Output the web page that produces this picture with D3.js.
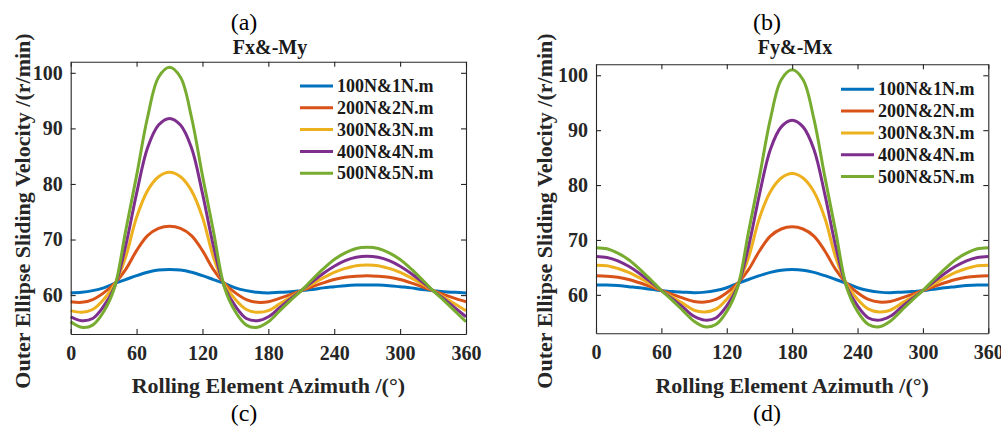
<!DOCTYPE html>
<html>
<head>
<meta charset="utf-8">
<script src="https://cdn.jsdelivr.net/npm/d3@7"></script>
<style>
  html, body { margin: 0; padding: 0; background: #fff; }
  svg { display: block; }
</style>
</head>
<body>
<svg id="chart" width="1001" height="427"></svg>
<script>
// ---------------- data ----------------
const angles = [0,10,20,30,40,50,60,70,80,90,100,110,120,130,140,150,160,170,180,190,200,210,220,230,240,250,260,270,280,290,300,310,320,330,340,350,360];
const xTickValues = [0, 60, 120, 180, 240, 300, 360];
const yTickValues = [60, 70, 80, 90, 100];
const seriesNames = ["100N&1N.m", "200N&2N.m", "300N&3N.m", "400N&4N.m", "500N&5N.m"];
const seriesColors = ["#0072BD", "#D95319", "#EDB120", "#7E2F8E", "#77AC30"];

// Panel (c): Fx&-My
const fxBlue   = [60.4,60.5,60.8,61.3,62.1,62.8,63.5,64.1,64.5,64.6,64.5,64.1,63.5,62.8,62.1,61.3,60.8,60.5,60.4,60.5,60.6,60.8,61.0,61.3,61.5,61.7,61.8,61.8,61.8,61.7,61.5,61.3,61.0,60.8,60.6,60.5,60.4];
const fxOrange = [58.8,58.7,59.2,60.4,62.1,64.6,68.0,70.7,72.0,72.4,72.0,70.7,68.0,64.6,62.1,60.4,59.2,58.7,58.8,59.4,60.1,60.8,61.5,62.2,62.8,63.2,63.4,63.5,63.4,63.2,62.8,62.2,61.5,60.8,60.1,59.4,58.8];
const fxYellow = [57.2,56.9,57.4,59.2,61.9,66.8,74.0,78.8,81.3,82.1,81.3,78.8,74.0,66.8,61.9,59.2,57.4,56.9,57.2,58.4,59.6,60.8,62.0,63.1,64.1,64.8,65.3,65.4,65.3,64.8,64.1,63.1,62.0,60.8,59.6,58.4,57.2];
const fxPurple = [56.1,55.4,55.8,58.0,61.5,68.8,78.3,86.5,90.6,91.8,90.6,86.5,78.3,68.8,61.5,58.0,55.8,55.4,56.1,57.7,59.3,60.8,62.4,63.9,65.2,66.2,66.8,67.0,66.8,66.2,65.2,63.9,62.4,60.8,59.3,57.7,56.1];
const fxGreen  = [55.2,54.2,54.6,57.0,61.4,71.5,81.5,92.0,99.2,101.0,99.2,92.0,81.5,71.5,61.4,57.0,54.6,54.2,55.2,57.1,59.0,60.8,62.8,64.7,66.4,67.6,68.4,68.6,68.4,67.6,66.4,64.7,62.8,60.8,59.0,57.1,55.2];

// Panel (d): Fy&-Mx
const fyBlue   = [61.8,61.8,61.7,61.5,61.3,61.0,60.8,60.6,60.5,60.4,60.5,60.8,61.3,62.1,62.8,63.5,64.1,64.5,64.6,64.5,64.1,63.5,62.8,62.1,61.3,60.8,60.5,60.4,60.5,60.6,60.8,61.0,61.3,61.5,61.7,61.8,61.8];
const fyOrange = [63.5,63.4,63.2,62.8,62.2,61.5,60.8,60.1,59.4,58.8,58.7,59.2,60.4,62.1,64.6,68.0,70.7,72.0,72.4,72.0,70.7,68.0,64.6,62.1,60.4,59.2,58.7,58.8,59.4,60.1,60.8,61.5,62.2,62.8,63.2,63.4,63.5];
const fyYellow = [65.4,65.3,64.8,64.1,63.1,62.0,60.8,59.6,58.4,57.2,56.9,57.4,59.2,61.9,66.8,74.0,78.8,81.3,82.1,81.3,78.8,74.0,66.8,61.9,59.2,57.4,56.9,57.2,58.4,59.6,60.8,62.0,63.1,64.1,64.8,65.3,65.4];
const fyPurple = [67.0,66.8,66.2,65.2,63.9,62.4,60.8,59.3,57.7,56.1,55.4,55.8,58.0,61.5,68.8,78.3,86.5,90.6,91.8,90.6,86.5,78.3,68.8,61.5,58.0,55.8,55.4,56.1,57.7,59.3,60.8,62.4,63.9,65.2,66.2,66.8,67.0];
const fyGreen  = [68.6,68.4,67.6,66.4,64.7,62.8,60.8,59.0,57.1,55.2,54.2,54.6,57.0,61.4,71.5,81.5,92.0,99.2,101.0,99.2,92.0,81.5,71.5,61.4,57.0,54.6,54.2,55.2,57.1,59.0,60.8,62.8,64.7,66.4,67.6,68.4,68.6];

const xDomain = [0, 360];
const yDomain = [53, 102];

// ---------------- drawing ----------------
const svg = d3.select("#chart");
const FONT = "'Liberation Serif', 'Times New Roman', Times, serif";
const AXC = "#262626";

function drawPanel(cfg) {
  const x = d3.scaleLinear().domain(xDomain).range([cfg.left, cfg.right]);
  const y = d3.scaleLinear().domain(yDomain).range([cfg.bottom, cfg.top]);
  const g = svg.append("g");

  const line = d3.line()
    .x((d, i) => x(angles[i]))
    .y(d => y(d))
    .curve(d3.curveCatmullRom.alpha(0.5));

  cfg.series.forEach((s, k) => {
    g.append("path")
      .attr("d", line(s))
      .attr("fill", "none")
      .attr("stroke", seriesColors[k])
      .attr("stroke-width", 3)
      .attr("stroke-linejoin", "round");
  });

  // axes (ticks inward on all four sides)
  const styleAxis = sel => {
    sel.selectAll("path.domain").attr("stroke", AXC).attr("stroke-width", 1.1);
    sel.selectAll(".tick line").attr("stroke", AXC).attr("stroke-width", 1.1);
    sel.selectAll("text")
      .attr("font-family", FONT).attr("font-weight", "bold")
      .attr("font-size", 20).attr("fill", AXC);
  };
  g.append("g").attr("transform", `translate(0,${cfg.bottom})`)
    .call(d3.axisBottom(x).tickValues(xTickValues).tickSizeInner(-5).tickSizeOuter(0).tickPadding(12))
    .call(styleAxis);
  g.append("g").attr("transform", `translate(0,${cfg.top})`)
    .call(d3.axisTop(x).tickValues(xTickValues).tickSizeInner(-5).tickSizeOuter(0).tickFormat(""))
    .call(styleAxis);
  g.append("g").attr("transform", `translate(${cfg.left},0)`)
    .call(d3.axisLeft(y).tickValues(yTickValues).tickSizeInner(-5).tickSizeOuter(0).tickPadding(8))
    .call(styleAxis);
  g.append("g").attr("transform", `translate(${cfg.right},0)`)
    .call(d3.axisRight(y).tickValues(yTickValues).tickSizeInner(-5).tickSizeOuter(0).tickFormat(""))
    .call(styleAxis);

  // title
  g.append("text").attr("x", cfg.titleX).attr("y", 54)
    .attr("text-anchor", "middle").attr("font-family", FONT).attr("font-weight", "bold")
    .attr("font-size", 20).attr("fill", "#1a1a1a").text(cfg.title);

  // axis labels
  g.append("text").attr("x", (cfg.left + cfg.right) / 2).attr("y", 393)
    .attr("text-anchor", "middle").attr("font-family", FONT).attr("font-weight", "bold")
    .attr("font-size", 22).attr("fill", AXC).text("Rolling Element Azimuth /(°)");
  g.append("text")
    .attr("transform", `translate(${cfg.ylabX},211) rotate(-90)`)
    .attr("text-anchor", "middle").attr("font-family", FONT).attr("font-weight", "bold")
    .attr("font-size", 22).attr("fill", AXC).text("Outer Ellipse Sliding Velocity /(r/min)");

  // legend
  const lg = g.append("g");
  seriesNames.forEach((name, k) => {
    const yy = cfg.legY + k * 21.8;
    lg.append("line").attr("x1", cfg.legX).attr("x2", cfg.legX + 33)
      .attr("y1", yy).attr("y2", yy)
      .attr("stroke", seriesColors[k]).attr("stroke-width", 3);
    lg.append("text").attr("x", cfg.legX + 37).attr("y", yy).attr("dy", "0.34em")
      .attr("font-family", FONT).attr("font-weight", "bold").attr("font-size", 18)
      .attr("fill", "#1a1a1a").text(name);
  });

  // panel letters
  g.append("text").attr("x", cfg.letterX).attr("y", 30)
    .attr("text-anchor", "middle").attr("font-family", FONT).attr("font-size", 24)
    .attr("fill", "#000").text(cfg.topLetter);
  g.append("text").attr("x", cfg.letterX).attr("y", 421)
    .attr("text-anchor", "middle").attr("font-family", FONT).attr("font-size", 24)
    .attr("fill", "#000").text(cfg.bottomLetter);
}

drawPanel({
  left: 70.7, right: 466, top: 61.7, bottom: 334,
  series: [fxBlue, fxOrange, fxYellow, fxPurple, fxGreen],
  title: "Fx&-My", titleX: 270, ylabX: 30,
  legX: 300, legY: 86,
  letterX: 244, topLetter: "(a)", bottomLetter: "(c)"
});
drawPanel({
  left: 596, right: 988.3, top: 64.3, bottom: 333.3,
  series: [fyBlue, fyOrange, fyYellow, fyPurple, fyGreen],
  title: "Fy&-Mx", titleX: 795, ylabX: 552,
  legX: 841, legY: 89.3,
  letterX: 767, topLetter: "(b)", bottomLetter: "(d)"
});
</script>
</body>
</html>
